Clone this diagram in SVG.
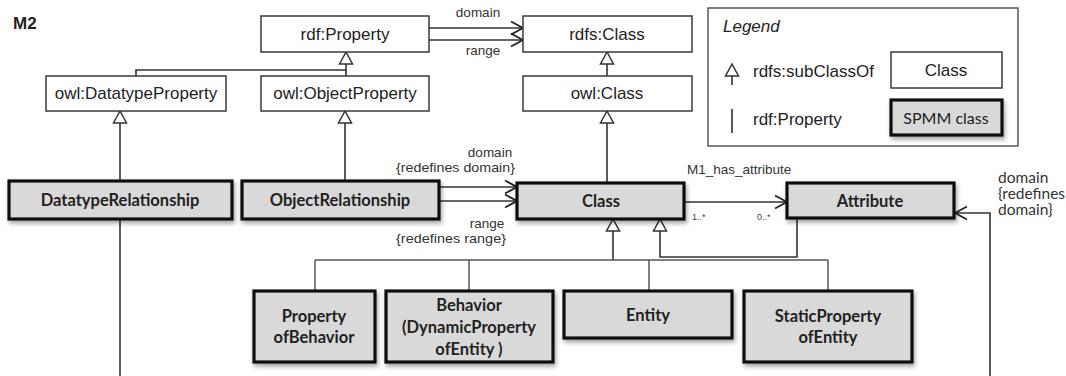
<svg xmlns="http://www.w3.org/2000/svg" width="1066" height="376" viewBox="0 0 1066 376">
  <style>
    .ont { fill: #ffffff; stroke: #3a3a3a; stroke-width: 1.5; }
    .spmm { fill: #d9d9d9; stroke: #111111; stroke-width: 3.2; filter: url(#shadow); }
    .ot { font-family: "Liberation Sans", Arial, sans-serif; font-size: 17px; fill: #222; text-anchor: middle; }
    .st { font-family: Lato, "Open Sans", sans-serif; font-weight: 700; font-size: 16.5px; fill: #222; text-anchor: middle; }
    .lbl { font-family: "Liberation Sans", Arial, sans-serif; font-size: 13.5px; fill: #333; }
    .lbl2 { font-family: Lato, "Open Sans", sans-serif; font-size: 15.5px; fill: #333; }
    .mult { font-family: "Liberation Sans", Arial, sans-serif; font-size: 9px; fill: #444; }
    .edge { fill: none; stroke: #333333; stroke-width: 1.6; }
    .tree { fill: none; stroke: #555555; stroke-width: 1.5; }
  </style>
  <defs>
    <filter id="shadow" x="-10%" y="-20%" width="125%" height="150%">
      <feDropShadow dx="1.5" dy="3" stdDeviation="2" flood-color="#000" flood-opacity="0.35"/>
    </filter>
    <!-- hollow triangle: rdfs:subClassOf -->
    <marker id="tri" markerUnits="userSpaceOnUse" markerWidth="16" markerHeight="16" viewBox="-14 -8 16 16" refX="0" refY="0" orient="auto">
      <path d="M0 0 L-12 -6.5 L-12 6.5 Z" fill="#fff" stroke="#333" stroke-width="1.5"/>
    </marker>
    <!-- open chevron: property arrows -->
    <marker id="open" markerUnits="userSpaceOnUse" markerWidth="16" markerHeight="16" viewBox="-14 -8 16 16" refX="0" refY="0" orient="auto">
      <path d="M-12 -6.5 L0 0 L-12 6.5" fill="none" stroke="#222" stroke-width="1.8"/>
    </marker>
  </defs>

  <rect width="1066" height="376" fill="#ffffff"/>

  <text x="13" y="29" font-family="Liberation Sans, Arial, sans-serif" font-size="17" font-weight="700" fill="#222">M2</text>

  <!-- connectors -->
  <g id="connectors">
    <!-- rdf:Property hierarchy -->
    <path class="edge" d="M136 76 V70 H346 V52" marker-end="url(#tri)"/>
    <path class="edge" d="M346 76 V70"/>
    <path class="edge" d="M607 76 V52" marker-end="url(#tri)"/>
    <path class="edge" d="M429 28 H523" marker-end="url(#open)"/>
    <path class="edge" d="M429 40 H523" marker-end="url(#open)"/>
    <!-- SPMM relationships -->
    <path class="edge" d="M120 181 V111" marker-end="url(#tri)"/>
    <path class="edge" d="M120 219 V376"/>
    <path class="edge" d="M345 181 V111" marker-end="url(#tri)"/>
    <path class="edge" d="M439 187 H517" marker-end="url(#open)"/>
    <path class="edge" d="M439 201 H517" marker-end="url(#open)"/>
    <path class="edge" d="M607 183 V111" marker-end="url(#tri)"/>
    <path class="edge" d="M684 202 H787" marker-end="url(#open)"/>
    <path class="edge" d="M797 218 V257 H660 V219" marker-end="url(#tri)"/>
    <path class="edge" d="M990 376 V213 H955" marker-end="url(#open)"/>
    <!-- subclasses of Class -->
    <path class="edge" d="M613 260 V219" marker-end="url(#tri)"/>
    <path class="tree" d="M315 260 H828"/>
    <path class="tree" d="M315 260 V291 M469 260 V291 M649 260 V291 M828 260 V291"/>
  </g>

  <!-- edge labels -->
  <g id="edge-labels">
    <text class="lbl" x="478" y="17" text-anchor="middle">domain</text>
    <text class="lbl" x="483" y="55" text-anchor="middle">range</text>
    <text class="lbl" x="490" y="157" text-anchor="middle">domain</text>
    <text class="lbl" x="396" y="172" textLength="119" lengthAdjust="spacingAndGlyphs">{redefines domain}</text>
    <text class="lbl" x="487" y="228" text-anchor="middle">range</text>
    <text class="lbl" x="396" y="243" textLength="110" lengthAdjust="spacingAndGlyphs">{redefines range}</text>
    <text class="lbl" x="687" y="174">M1_has_attribute</text>
    <text class="mult" x="692" y="220">1..*</text>
    <text class="mult" x="757" y="220">0..*</text>
    <text class="lbl2" x="998" y="183">domain</text>
    <text class="lbl2" x="998" y="199">{redefines</text>
    <text class="lbl2" x="998" y="215">domain}</text>
  </g>

  <!-- ontology classes -->
  <g id="rdf-property">
    <rect class="ont" x="261" y="16" width="168" height="36"/>
    <text class="ot" x="345" y="40">rdf:Property</text>
  </g>
  <g id="rdfs-class">
    <rect class="ont" x="523" y="16" width="169" height="36"/>
    <text class="ot" x="607" y="40">rdfs:Class</text>
  </g>
  <g id="owl-datatype-property">
    <rect class="ont" x="46" y="76" width="180" height="35"/>
    <text class="ot" x="136" y="99">owl:DatatypeProperty</text>
  </g>
  <g id="owl-object-property">
    <rect class="ont" x="261" y="76" width="168" height="35"/>
    <text class="ot" x="345" y="99">owl:ObjectProperty</text>
  </g>
  <g id="owl-class">
    <rect class="ont" x="523" y="76" width="169" height="35"/>
    <text class="ot" x="607" y="99">owl:Class</text>
  </g>

  <!-- SPMM classes -->
  <g id="datatype-relationship">
    <rect class="spmm" x="9" y="181" width="223" height="38"/>
    <text class="st" x="120" y="206">DatatypeRelationship</text>
  </g>
  <g id="object-relationship">
    <rect class="spmm" x="242" y="181" width="197" height="38"/>
    <text class="st" x="340" y="206">ObjectRelationship</text>
  </g>
  <g id="class">
    <rect class="spmm" x="517" y="183" width="167" height="36"/>
    <text class="st" x="601" y="207">Class</text>
  </g>
  <g id="attribute">
    <rect class="spmm" x="787" y="183" width="167" height="35"/>
    <text class="st" x="870" y="207">Attribute</text>
  </g>
  <g id="property-of-behavior">
    <rect class="spmm" x="254" y="291" width="121" height="71"/>
    <text class="st" x="314" y="322">Property</text>
    <text class="st" x="314" y="343">ofBehavior</text>
  </g>
  <g id="behavior">
    <rect class="spmm" x="386" y="291" width="167" height="71"/>
    <text class="st" x="469" y="311">Behavior</text>
    <text class="st" x="469" y="333">(DynamicProperty</text>
    <text class="st" x="469" y="355">ofEntity )</text>
  </g>
  <g id="entity">
    <rect class="spmm" x="564" y="291" width="168" height="47"/>
    <text class="st" x="648" y="321">Entity</text>
  </g>
  <g id="static-property-of-entity">
    <rect class="spmm" x="744" y="291" width="168" height="71"/>
    <text class="st" x="828" y="322">StaticProperty</text>
    <text class="st" x="828" y="343">ofEntity</text>
  </g>

  <!-- legend -->
  <g id="legend">
    <rect x="708" y="8" width="310" height="138" fill="#fff" stroke="#555" stroke-width="1.5"/>
    <text x="723" y="32" font-family="Liberation Sans, Arial, sans-serif" font-size="17" font-style="italic" fill="#222">Legend</text>
    <path class="edge" d="M732 85 V64" marker-end="url(#tri)"/>
    <text x="753" y="77" font-family="Liberation Sans, Arial, sans-serif" font-size="17" fill="#222">rdfs:subClassOf</text>
    <path class="edge" d="M732 109 V133"/>
    <text x="753" y="125" font-family="Liberation Sans, Arial, sans-serif" font-size="17" fill="#222">rdf:Property</text>
    <rect class="ont" x="891" y="52" width="111" height="36"/>
    <text class="ot" x="946" y="76">Class</text>
    <rect class="spmm" x="891" y="100" width="111" height="35"/>
    <text x="946" y="124" font-family="Lato, 'Open Sans', sans-serif" font-size="16" fill="#222" text-anchor="middle">SPMM class</text>
  </g>
</svg>
